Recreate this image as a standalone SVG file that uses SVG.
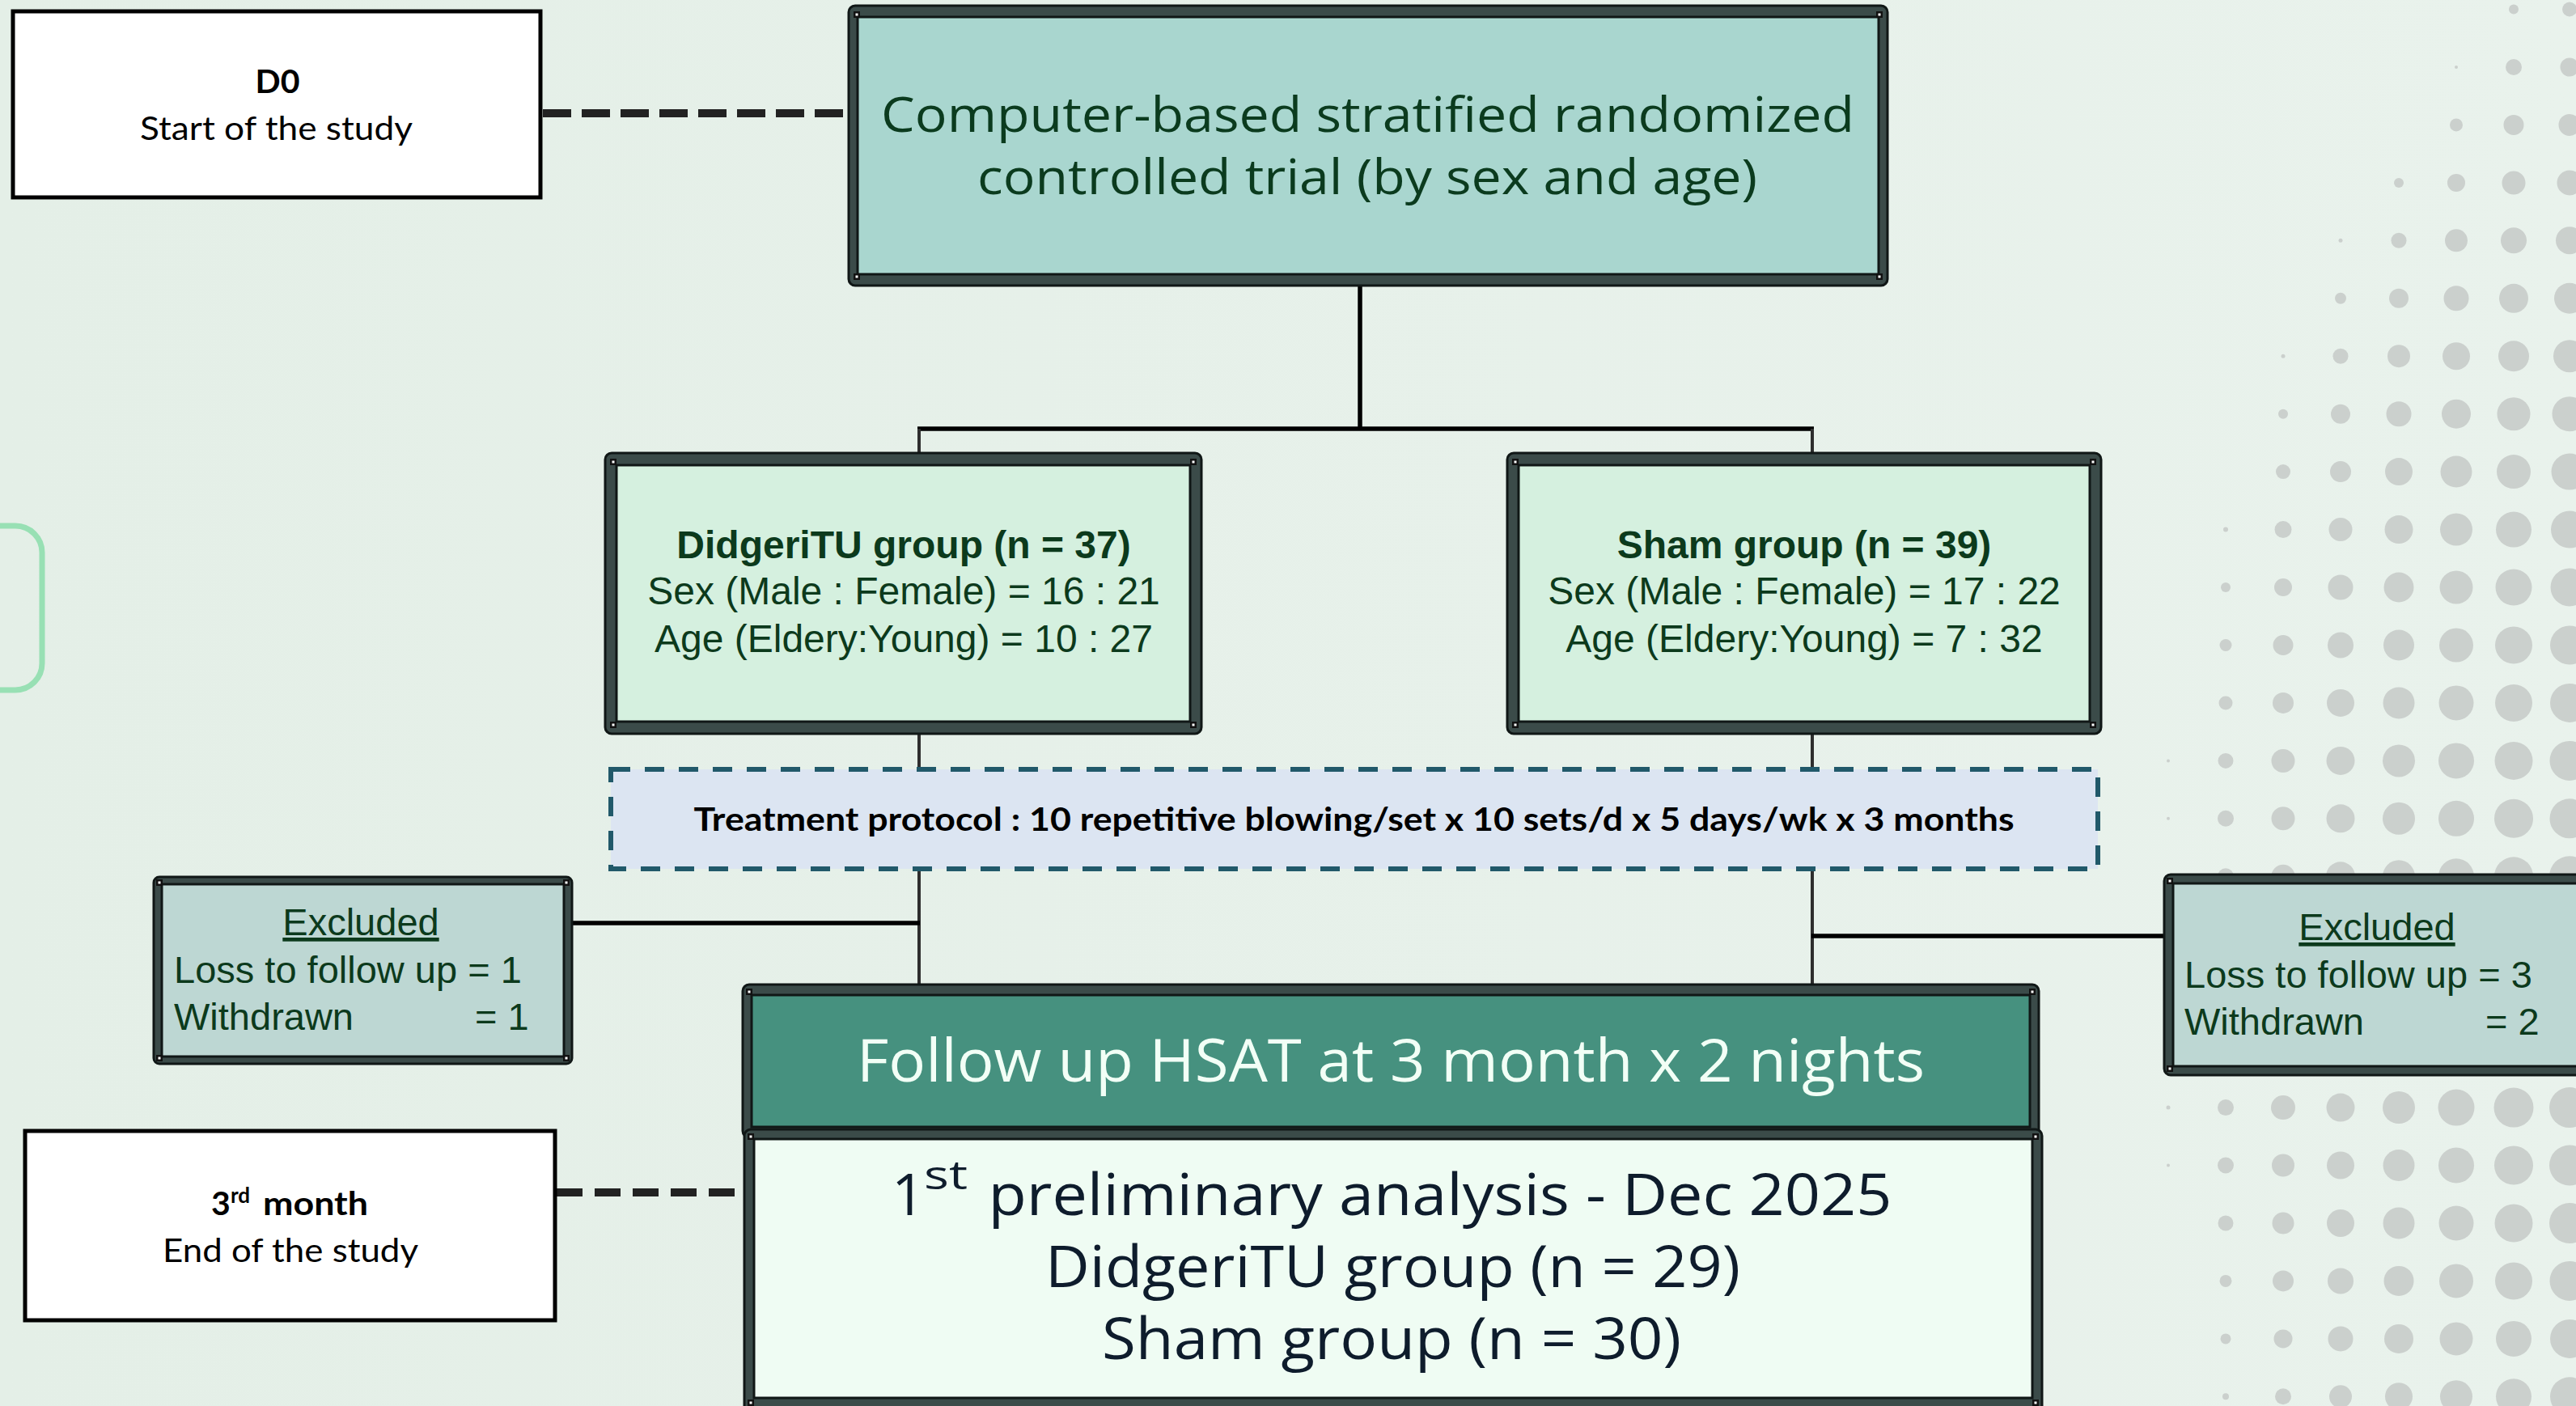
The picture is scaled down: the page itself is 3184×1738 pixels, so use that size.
<svg xmlns="http://www.w3.org/2000/svg" xmlns:xlink="http://www.w3.org/1999/xlink" width="3184" height="1738" viewBox="0 0 3184 1738">
  <defs>
    <linearGradient id="bg" x1="0" y1="0" x2="1" y2="0">
      <stop offset="0" stop-color="#e4efe7"/>
      <stop offset="1" stop-color="#e9f2ec"/>
    </linearGradient>
    <!-- small corner pin drawn on the scroll-style frames -->
    <g id="pin">
      <rect x="-4" y="-4" width="8" height="8" fill="#111"/>
      <rect x="-1.5" y="-1.5" width="3" height="3" fill="#fff"/>
    </g>
    <style>
      .frame { fill: #3b4b49; stroke: #101716; stroke-width: 3; }
      .inner { stroke: #101716; stroke-width: 3; }
      .plain { fill: #ffffff; stroke: #000000; stroke-width: 5; }
      .calibri { font-family: Lato, "Open Sans", sans-serif; fill: #000; }
      .plex { font-family: "Open Sans", "Noto Sans", sans-serif; }
      .arial { font-family: "Liberation Sans", Arial, sans-serif; fill: #0c3a1c; }
      .dot { fill: #cbd0cd; }
      .main { stroke: #000; stroke-width: 5.5; fill: none; }
      .branch { stroke: #2e2e2e; stroke-width: 4; fill: none; }
      .dash { stroke: #222; stroke-width: 10; stroke-dasharray: 35 13; fill: none; }
    </style>
  </defs>

  <!-- background -->
  <rect x="0" y="0" width="3184" height="1738" fill="url(#bg)"/>
  <rect x="-100" y="650" width="152" height="203" rx="33" fill="none" stroke="#98e0b4" stroke-width="7"/>

  <!-- halftone dot field on the right -->
  <g id="halftone" class="dot">
    <circle cx="3107" cy="11.5" r="6"/><circle cx="3176" cy="11.5" r="9"/>
    <circle cx="3036" cy="83" r="2"/><circle cx="3107" cy="83" r="10"/><circle cx="3176" cy="83" r="11.5"/>
    <circle cx="3036" cy="154.4" r="8"/><circle cx="3107" cy="154.4" r="12.5"/><circle cx="3176" cy="154.4" r="13.5"/>
    <circle cx="2965" cy="225.9" r="6"/><circle cx="3036" cy="225.9" r="11"/><circle cx="3107" cy="225.9" r="14.5"/><circle cx="3176" cy="225.9" r="15.5"/>
    <circle cx="2893" cy="297.3" r="2.5"/><circle cx="2965" cy="297.3" r="9.5"/><circle cx="3036" cy="297.3" r="14"/><circle cx="3107" cy="297.3" r="16"/><circle cx="3176" cy="297.3" r="17"/>
    <circle cx="2893" cy="368.8" r="7"/><circle cx="2965" cy="368.8" r="12"/><circle cx="3036" cy="368.8" r="15.5"/><circle cx="3107" cy="368.8" r="18"/><circle cx="3176" cy="368.8" r="19"/>
    <circle cx="2822" cy="440.2" r="2.5"/><circle cx="2893" cy="440.2" r="9.5"/><circle cx="2965" cy="440.2" r="14"/><circle cx="3036" cy="440.2" r="17"/><circle cx="3107" cy="440.2" r="19"/><circle cx="3176" cy="440.2" r="20"/>
    <circle cx="2822" cy="511.7" r="6"/><circle cx="2893" cy="511.7" r="12"/><circle cx="2965" cy="511.7" r="15.5"/><circle cx="3036" cy="511.7" r="18"/><circle cx="3107" cy="511.7" r="20.5"/><circle cx="3176" cy="511.7" r="21.5"/>
    <circle cx="2822" cy="583.1" r="9"/><circle cx="2893" cy="583.1" r="13"/><circle cx="2965" cy="583.1" r="17"/><circle cx="3036" cy="583.1" r="19.5"/><circle cx="3107" cy="583.1" r="21"/><circle cx="3176" cy="583.1" r="22.5"/>
    <circle cx="2751" cy="654.6" r="3"/><circle cx="2822" cy="654.6" r="10.5"/><circle cx="2893" cy="654.6" r="14.5"/><circle cx="2965" cy="654.6" r="17.5"/><circle cx="3036" cy="654.6" r="20"/><circle cx="3107" cy="654.6" r="22"/><circle cx="3176" cy="654.6" r="23"/>
    <circle cx="2751" cy="726" r="6"/><circle cx="2822" cy="726" r="11"/><circle cx="2893" cy="726" r="15.5"/><circle cx="2965" cy="726" r="18.5"/><circle cx="3036" cy="726" r="20.5"/><circle cx="3107" cy="726" r="22.5"/><circle cx="3176" cy="726" r="23.5"/>
    <circle cx="2751" cy="797.5" r="7.5"/><circle cx="2822" cy="797.5" r="12.5"/><circle cx="2893" cy="797.5" r="16"/><circle cx="2965" cy="797.5" r="19"/><circle cx="3036" cy="797.5" r="21"/><circle cx="3107" cy="797.5" r="23"/><circle cx="3176" cy="797.5" r="24"/>
    <circle cx="2751" cy="868.9" r="8.5"/><circle cx="2822" cy="868.9" r="13"/><circle cx="2893" cy="868.9" r="17"/><circle cx="2965" cy="868.9" r="19.5"/><circle cx="3036" cy="868.9" r="21.5"/><circle cx="3107" cy="868.9" r="23"/><circle cx="3176" cy="868.9" r="24"/>
    <circle cx="2680" cy="940.4" r="2"/><circle cx="2751" cy="940.4" r="9.5"/><circle cx="2822" cy="940.4" r="14.5"/><circle cx="2893" cy="940.4" r="17.5"/><circle cx="2965" cy="940.4" r="20"/><circle cx="3036" cy="940.4" r="22"/><circle cx="3107" cy="940.4" r="23.5"/><circle cx="3176" cy="940.4" r="24.5"/>
    <circle cx="2680" cy="1011.8" r="2"/><circle cx="2751" cy="1011.8" r="10"/><circle cx="2822" cy="1011.8" r="14.5"/><circle cx="2893" cy="1011.8" r="17.5"/><circle cx="2965" cy="1011.8" r="20"/><circle cx="3036" cy="1011.8" r="22"/><circle cx="3107" cy="1011.8" r="24"/><circle cx="3176" cy="1011.8" r="24.5"/>
    <circle cx="2680" cy="1083.3" r="2"/><circle cx="2751" cy="1083.3" r="10"/><circle cx="2822" cy="1083.3" r="14.5"/><circle cx="2893" cy="1083.3" r="18"/><circle cx="2965" cy="1083.3" r="20"/><circle cx="3036" cy="1083.3" r="22"/><circle cx="3107" cy="1083.3" r="24"/><circle cx="3176" cy="1083.3" r="25"/>
    <circle cx="2680" cy="1369.1" r="2.5"/><circle cx="2751" cy="1369.1" r="10"/><circle cx="2822" cy="1369.1" r="15"/><circle cx="2893" cy="1369.1" r="17.5"/><circle cx="2965" cy="1369.1" r="20"/><circle cx="3036" cy="1369.1" r="22.5"/><circle cx="3107" cy="1369.1" r="24.5"/><circle cx="3176" cy="1369.1" r="25"/>
    <circle cx="2680" cy="1440.5" r="2"/><circle cx="2751" cy="1440.5" r="10"/><circle cx="2822" cy="1440.5" r="14"/><circle cx="2893" cy="1440.5" r="17"/><circle cx="2965" cy="1440.5" r="19.5"/><circle cx="3036" cy="1440.5" r="22"/><circle cx="3107" cy="1440.5" r="24"/><circle cx="3176" cy="1440.5" r="25"/>
    <circle cx="2751" cy="1512" r="9.5"/><circle cx="2822" cy="1512" r="13.5"/><circle cx="2893" cy="1512" r="17"/><circle cx="2965" cy="1512" r="19.5"/><circle cx="3036" cy="1512" r="21.5"/><circle cx="3107" cy="1512" r="23.5"/><circle cx="3176" cy="1512" r="25"/>
    <circle cx="2751" cy="1583.4" r="7.5"/><circle cx="2822" cy="1583.4" r="13"/><circle cx="2893" cy="1583.4" r="16"/><circle cx="2965" cy="1583.4" r="18.5"/><circle cx="3036" cy="1583.4" r="21"/><circle cx="3107" cy="1583.4" r="23"/><circle cx="3176" cy="1583.4" r="24.5"/>
    <circle cx="2751" cy="1654.9" r="6.5"/><circle cx="2822" cy="1654.9" r="11.5"/><circle cx="2893" cy="1654.9" r="15.5"/><circle cx="2965" cy="1654.9" r="18"/><circle cx="3036" cy="1654.9" r="20.5"/><circle cx="3107" cy="1654.9" r="22"/><circle cx="3176" cy="1654.9" r="24"/>
    <circle cx="2751" cy="1726.3" r="4"/><circle cx="2822" cy="1726.3" r="10"/><circle cx="2893" cy="1726.3" r="14"/><circle cx="2965" cy="1726.3" r="17"/><circle cx="3036" cy="1726.3" r="20"/><circle cx="3107" cy="1726.3" r="22"/><circle cx="3176" cy="1726.3" r="24"/>
  </g>

  <!-- connectors -->
  <g id="connectors">
    <line class="dash" x1="671" y1="140" x2="1047" y2="140"/>
    <line class="dash" x1="688" y1="1474" x2="912" y2="1474" style="stroke-dasharray: 32 15"/>
    <line class="main" x1="1681" y1="353" x2="1681" y2="532"/>
    <line class="main" x1="1134" y1="530" x2="2242" y2="530"/>
    <path class="branch" d="M1136 530 V562 M2240 530 V562"/>
    <path class="branch" d="M1136 907 V949 M2240 907 V949"/>
    <path class="branch" d="M1136 1074 V1219 M2240 1074 V1219"/>
    <line class="main" x1="707" y1="1141" x2="1137" y2="1141"/>
    <line class="main" x1="2239" y1="1157" x2="2676" y2="1157"/>
  </g>

  <!-- start marker -->
  <g id="d0">
    <rect class="plain" x="16" y="14" width="652" height="230"/>
    <text class="calibri" x="343" y="115" font-size="41" font-weight="bold" text-anchor="middle">D0</text>
    <text class="calibri" x="341.5" y="173" font-size="41" text-anchor="middle" textLength="337" lengthAdjust="spacingAndGlyphs">Start of the study</text>
  </g>

  <!-- randomization -->
  <g id="randomization">
    <rect class="frame" x="1049" y="7" width="1284" height="346" rx="8"/>
    <rect class="inner" x="1060" y="21" width="1262" height="318" fill="#a9d6cf"/>
    <use href="#pin" x="1059" y="18"/><use href="#pin" x="2323" y="18"/>
    <use href="#pin" x="1059" y="342"/><use href="#pin" x="2323" y="342"/>
    <g class="plex" fill="#0b3b1e" font-size="60" text-anchor="middle">
      <text x="1690.5" y="163" textLength="1203" lengthAdjust="spacingAndGlyphs">Computer-based stratified randomized</text>
      <text x="1690" y="240" textLength="964" lengthAdjust="spacingAndGlyphs">controlled trial (by sex and age)</text>
    </g>
  </g>

  <!-- DidgeriTU arm -->
  <g id="didgeritu">
    <rect class="frame" x="748" y="560" width="737" height="347" rx="8"/>
    <rect class="inner" x="762" y="575" width="709" height="317" fill="#d5f0df"/>
    <use href="#pin" x="758" y="571"/><use href="#pin" x="1475" y="571"/>
    <use href="#pin" x="758" y="896"/><use href="#pin" x="1475" y="896"/>
    <g class="arial" font-size="48" text-anchor="middle">
      <text x="1117" y="690" font-weight="bold">DidgeriTU group (n = 37)</text>
      <text x="1117" y="747">Sex (Male : Female) = 16 : 21</text>
      <text x="1117" y="806">Age (Eldery:Young) = 10 : 27</text>
    </g>
  </g>

  <!-- Sham arm -->
  <g id="sham">
    <rect class="frame" x="1863" y="560" width="734" height="347" rx="8"/>
    <rect class="inner" x="1877" y="575" width="706" height="317" fill="#d5f0df"/>
    <use href="#pin" x="1873" y="571"/><use href="#pin" x="2587" y="571"/>
    <use href="#pin" x="1873" y="896"/><use href="#pin" x="2587" y="896"/>
    <g class="arial" font-size="48" text-anchor="middle">
      <text x="2230" y="690" font-weight="bold">Sham group (n = 39)</text>
      <text x="2230" y="747">Sex (Male : Female) = 17 : 22</text>
      <text x="2230" y="806">Age (Eldery:Young) = 7 : 32</text>
    </g>
  </g>

  <!-- treatment protocol -->
  <g id="protocol">
    <rect x="755" y="951" width="1838" height="123" fill="#dce5f2" stroke="#21596a" stroke-width="6" stroke-dasharray="24 18"/>
    <text class="calibri" x="1673.6" y="1027" font-size="40" font-weight="bold" text-anchor="middle" textLength="1632" lengthAdjust="spacingAndGlyphs">Treatment protocol : 10 repetitive blowing/set x 10 sets/d x 5 days/wk x 3 months</text>
  </g>

  <!-- exclusions, DidgeriTU -->
  <g id="excluded-left">
    <rect class="frame" x="190" y="1084" width="517" height="231" rx="7"/>
    <rect class="inner" x="200" y="1093" width="497" height="213" fill="#bdd7d3"/>
    <use href="#pin" x="197" y="1091"/><use href="#pin" x="700" y="1091"/>
    <use href="#pin" x="197" y="1308"/><use href="#pin" x="700" y="1308"/>
    <g class="arial" font-size="47">
      <text x="446" y="1156" text-anchor="middle" text-decoration="underline">Excluded</text>
      <text x="215" y="1215">Loss to follow up = 1</text>
      <text x="215" y="1273">Withdrawn</text>
      <text x="587" y="1273">= 1</text>
    </g>
  </g>

  <!-- exclusions, Sham -->
  <g id="excluded-right">
    <rect class="frame" x="2675" y="1081" width="540" height="248" rx="8"/>
    <rect class="inner" x="2686" y="1092" width="540" height="226" fill="#bdd7d3"/>
    <use href="#pin" x="2682" y="1089"/><use href="#pin" x="2682" y="1321"/>
    <g class="arial" font-size="47">
      <text x="2938" y="1162" text-anchor="middle" text-decoration="underline">Excluded</text>
      <text x="2700" y="1221">Loss to follow up = 3</text>
      <text x="2700" y="1279">Withdrawn</text>
      <text x="3072" y="1279">= 2</text>
    </g>
  </g>

  <!-- follow-up -->
  <g id="followup">
    <rect class="frame" x="918" y="1217" width="1602" height="189" rx="8"/>
    <rect class="inner" x="929" y="1230" width="1580" height="163" fill="#46917f"/>
    <use href="#pin" x="926" y="1226"/><use href="#pin" x="2512" y="1226"/>
    <text class="plex" x="1719" y="1337" font-size="74" fill="#f2fff6" text-anchor="middle" textLength="1320" lengthAdjust="spacingAndGlyphs">Follow up HSAT at 3 month x 2 nights</text>
  </g>

  <!-- preliminary analysis -->
  <g id="analysis">
    <rect class="frame" x="920" y="1396" width="1604" height="360" rx="8"/>
    <rect class="inner" x="932" y="1408" width="1580" height="320" fill="#effcf3"/>
    <use href="#pin" x="928" y="1405"/><use href="#pin" x="2516" y="1405"/>
    <use href="#pin" x="928" y="1734"/><use href="#pin" x="2516" y="1734"/>
    <g class="plex" fill="#0e1c2c">
      <text x="1102" y="1502" font-size="72">1</text>
      <text x="1142" y="1470" font-size="50" textLength="54" lengthAdjust="spacingAndGlyphs">st</text>
      <text x="1221.5" y="1502" font-size="72" textLength="1117" lengthAdjust="spacingAndGlyphs">preliminary analysis - Dec 2025</text>
      <text x="1721.5" y="1591" font-size="72" text-anchor="middle" textLength="859" lengthAdjust="spacingAndGlyphs">DidgeriTU group (n = 29)</text>
      <text x="1720" y="1680" font-size="72" text-anchor="middle" textLength="716" lengthAdjust="spacingAndGlyphs">Sham group (n = 30)</text>
    </g>
  </g>

  <!-- end marker -->
  <g id="month3">
    <rect class="plain" x="31" y="1398" width="655" height="234"/>
    <text class="calibri" x="261" y="1502" font-size="41" font-weight="bold">3</text>
    <text class="calibri" x="285" y="1487" font-size="26" font-weight="bold">rd</text>
    <text class="calibri" x="325" y="1502" font-size="41" font-weight="bold" textLength="130" lengthAdjust="spacingAndGlyphs">month</text>
    <text class="calibri" x="359" y="1560" font-size="41" text-anchor="middle" textLength="316" lengthAdjust="spacingAndGlyphs">End of the study</text>
  </g>
</svg>
